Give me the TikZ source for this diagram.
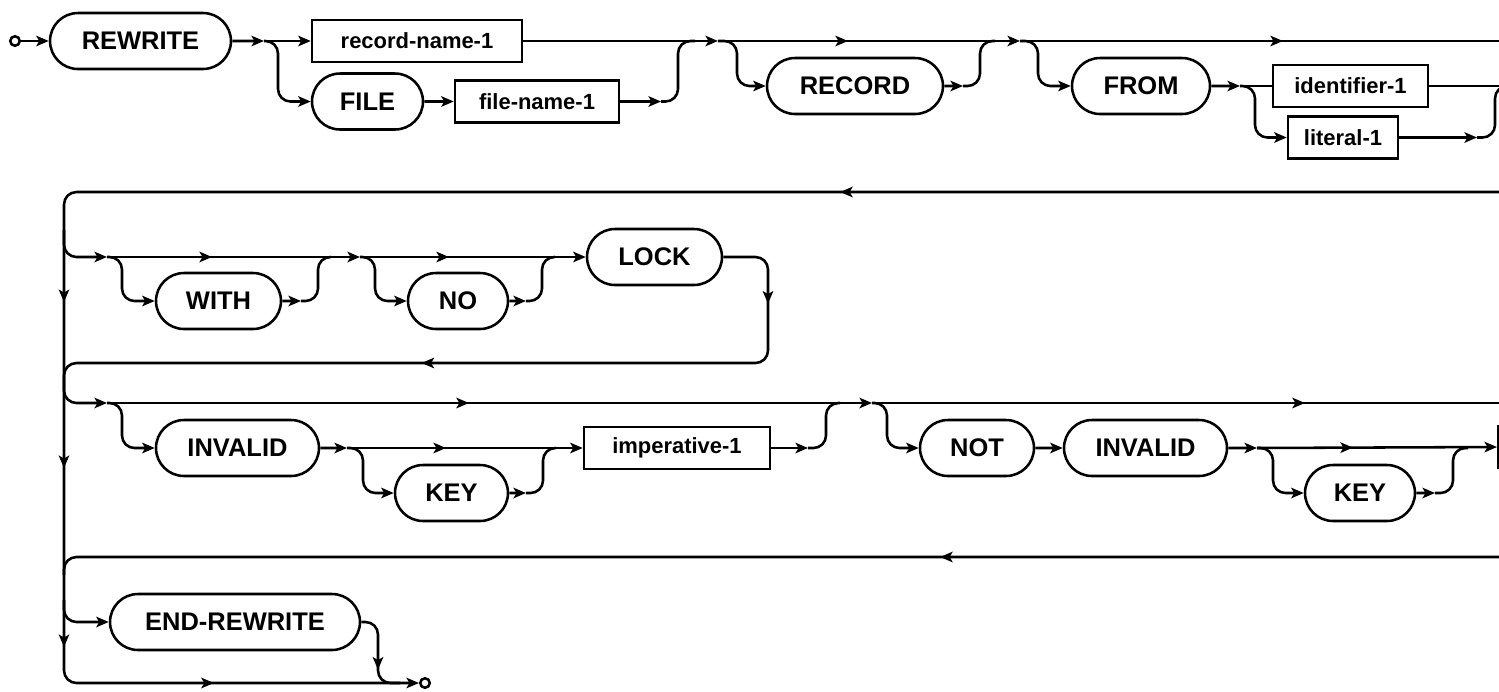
\documentclass[tikz,border=0pt]{standalone}
\usepackage{fontspec}
\setmainfont{Liberation Sans}
\usetikzlibrary{positioning,shapes.misc,arrows.meta,decorations.markings}
\tikzset{
  kw/.style={rounded rectangle,draw,minimum height=1.12cm,inner sep=0pt,
    font=\fontsize{14.5}{16}\selectfont\bfseries},
  term/.style={rectangle,draw,minimum height=0.84cm,inner sep=0pt,
    font=\fontsize{12.5}{14}\selectfont\bfseries},
  dot/.style={circle,draw,minimum size=0.19cm,inner sep=0pt},
  line/.style={rounded corners=0.25cm},
  tipat/.style={postaction={decorate,decoration={markings,
    mark=at position #1 with {\arrow{>}}}}}
}
\begin{document}
\begin{tikzpicture}[x=0.02cm,y=-0.02cm,line width=1.45pt,
  >={Stealth[length=2.5mm,width=2.1mm,inset=0.6mm]}]
\useasboundingbox (0,0) rectangle (1499,691);
\clip (0,0) rectangle (1499,691);
% row 1
\node [dot, name=start] at (15,41) {};
\node [kw, minimum width=3.62cm, name=rewrite] at (140.5,41) {REWRITE};
\node [term, minimum width=4.2cm, name=recname] at (417,41) {record-name-1};
\node [kw, minimum width=2.22cm, name=file] at (367.5,101.5) {FILE};
\node [term, minimum width=3.28cm, name=filename] at (537,101.5) {file-name-1};
\node [kw, minimum width=3.52cm, name=record] at (855,86) {RECORD};
\node [kw, minimum width=2.76cm, name=from] at (1141,86) {FROM};
\node [term, minimum width=3.1cm, name=ident] at (1350.5,86) {identifier-1};
\node [term, minimum width=2.2cm, name=literal] at (1343,137.5) {literal-1};
\coordinate (j1) at (264,41);
\coordinate (j2) at (718,41);
\coordinate (j3) at (1020,41);
\coordinate (j4) at (1240,86);
\coordinate (c1) at (661,101.5);
\coordinate (c2) at (963,86);
\coordinate (c3) at (1477,137.5);
\draw[->] (start) -- (rewrite);
\draw[->] (rewrite) -- (j1);
\draw[->] (j1) -- (recname);
\draw[line,->] (j1) -| (278,101.5) -- (file.west);
\draw[->] (file) -- (filename);
\draw[->] (filename) -- (c1);
\draw[line] (c1) -| (678,41) -- (695,41);
\draw[->] (recname) -- (j2);
\draw[->,tipat=2.6cm] (j2) -- (j3);
\draw[line,->] (j2) -| (737,86) -- (record.west);
\draw[->] (record) -- (c2);
\draw[line] (c2) -| (980,41) -- (995,41);
\draw[tipat=5.26cm] (j3) -- (1510,41);
\draw[line,->] (j3) -| (1038,86) -- (from.west);
\draw[->] (from) -- (j4);
\draw (j4) -- (ident);
\draw[line,->] (j4) -| (1255,137.5) -- (literal.west);
\draw (ident) -- (1510,86);
\draw[->] (literal) -- (c3);
\draw[line] (c3) -| (1495,86) -- (1510,86);
% spine
\node [dot, name=stop] at (425,683) {};
\draw[line,->,tipat=13.4cm,tipat=31.02cm,tipat=34.34cm,tipat=37.92cm,tipat=41.53cm]
  (1510,192) -| (64,683) -- (stop);
% row 2
\node [kw, minimum width=2.5cm, name=with] at (218.5,301) {WITH};
\node [kw, minimum width=2.0cm, name=no] at (458,301) {NO};
\node [kw, minimum width=2.7cm, name=lock] at (654.5,257) {LOCK};
\coordinate (j5) at (107,257);
\coordinate (j6) at (360,257);
\coordinate (c4) at (301,301);
\coordinate (c5) at (526,301);
\draw[line,->] (64,230) |- (j5);
\draw[->,tipat=2.1cm] (j5) -- (j6);
\draw[line,->] (j5) -| (122,301) -- (with.west);
\draw[->] (with) -- (c4);
\draw[line] (c4) -| (318,257) -- (330,257);
\draw[->,tipat=1.78cm] (j6) -- (lock);
\draw[line,->] (j6) -| (375,301) -- (no.west);
\draw[->] (no) -- (c5);
\draw[line] (c5) -| (542,257) -- (555,257);
\draw[line,tipat=1.72cm,tipat=9.73cm] (lock.east) -| (768,363) -| (64,380);
% row 3
\node [kw, minimum width=3.26cm, name=inv] at (237.5,448) {INVALID};
\node [kw, minimum width=2.26cm, name=key] at (451.5,493) {KEY};
\node [term, minimum width=3.72cm, name=imp] at (677,448) {imperative-1};
\node [kw, minimum width=2.28cm, name=not] at (977,448) {NOT};
\node [kw, minimum width=3.26cm, name=invb] at (1145.5,448) {INVALID};
\node [kw, minimum width=2.2cm, name=keyb] at (1360,493) {KEY};
\node [term, minimum width=3cm, anchor=west, name=next] at (1497,447) {};
\coordinate (j7) at (107,403);
\coordinate (j8) at (872,403);
\coordinate (j9) at (347,448);
\coordinate (j10) at (1257,448);
\coordinate (c6) at (526,493);
\coordinate (c7) at (808,448);
\coordinate (c8) at (1435,493);
\draw[line,->] (64,380) |- (j7);
\draw[->,tipat=7.24cm] (j7) -- (j8);
\draw[line,->] (j7) -| (122,448) -- (inv.west);
\draw[->] (inv) -- (j9);
\draw[line,->] (j9) -| (363,493) -- (key.west);
\draw[->,tipat=1.98cm] (j9) -- (imp);
\draw[->] (key) -- (c6);
\draw[line] (c6) -| (543,448) -- (555,448);
\draw[->] (imp) -- (c7);
\draw[line] (c7) -| (826,403) -- (840,403);
\draw[tipat=8.66cm] (j8) -- (1510,403);
\draw[line,->] (j8) -| (887,448) -- (not.west);
\draw[->] (not) -- (invb);
\draw[->] (invb) -- (j10);
\draw[->,tipat=1.92cm] (j10) -- (next.west);
\draw[line,->] (j10) -| (1273,493) -- (keyb.west);
\draw[->] (keyb) -- (c8);
\draw[line] (c8) -| (1453,448) -- (1468,448);
\draw[line,tipat=11.4cm] (1510,557) -| (64,575);
% row 4
\node [kw, minimum width=5cm, name=endrw] at (235,622) {END-REWRITE};
\draw[line,->] (64,600) |- (endrw.west);
\draw[line,tipat=1.18cm] (endrw.east) -| (378,683) -- (400,683);
\end{tikzpicture}
\end{document}
